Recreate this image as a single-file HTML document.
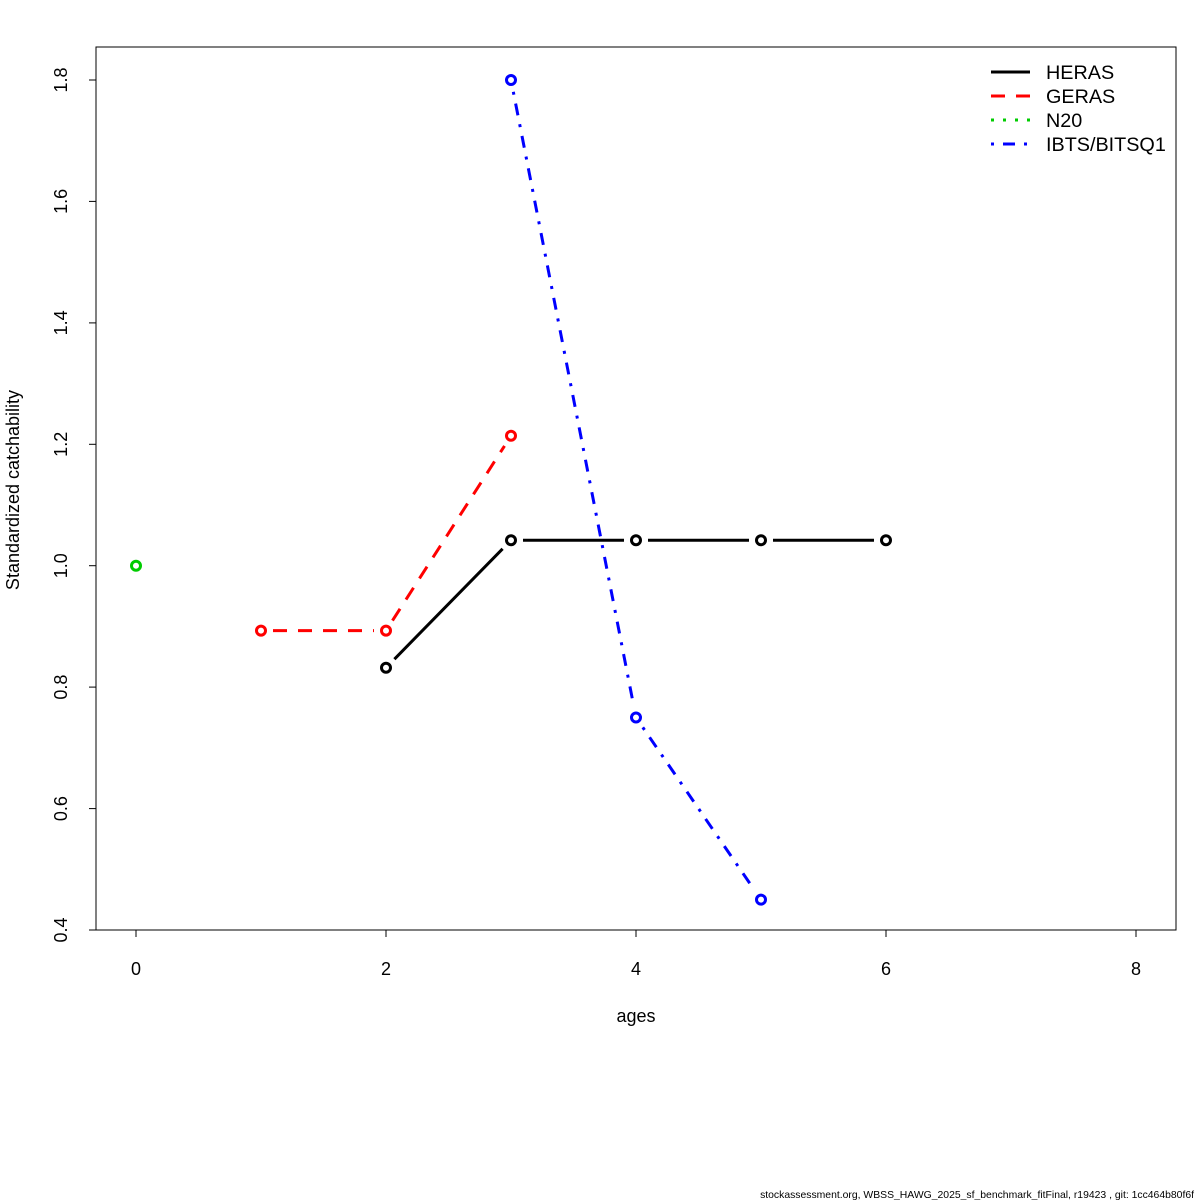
<!DOCTYPE html>
<html><head><meta charset="utf-8"><style>
html,body{margin:0;padding:0;background:#fff}
svg{display:block;font-family:"Liberation Sans",sans-serif}
</style></head><body>
<svg id="s" width="1200" height="1200" viewBox="0 0 1200 1200">
<rect x="96" y="47" width="1080" height="883" fill="none" stroke="#000" stroke-width="1"/>
<g stroke="#000" stroke-width="1">
<line x1="136" y1="930" x2="1136" y2="930"/>
<line x1="136" y1="930" x2="136" y2="937"/><line x1="386" y1="930" x2="386" y2="937"/>
<line x1="636" y1="930" x2="636" y2="937"/><line x1="886" y1="930" x2="886" y2="937"/>
<line x1="1136" y1="930" x2="1136" y2="937"/>
<line x1="96" y1="80" x2="96" y2="930"/>
<line x1="89" y1="930" x2="96" y2="930"/><line x1="89" y1="808.6" x2="96" y2="808.6"/>
<line x1="89" y1="687.1" x2="96" y2="687.1"/><line x1="89" y1="565.7" x2="96" y2="565.7"/>
<line x1="89" y1="444.3" x2="96" y2="444.3"/><line x1="89" y1="322.9" x2="96" y2="322.9"/>
<line x1="89" y1="201.4" x2="96" y2="201.4"/><line x1="89" y1="80" x2="96" y2="80"/>
</g>
<g font-size="18" text-anchor="middle" fill="#000">
<text x="136" y="975">0</text><text x="386" y="975">2</text><text x="636" y="975">4</text>
<text x="886" y="975">6</text><text x="1136" y="975">8</text>
<text x="636" y="1022">ages</text>
<text transform="translate(67,930) rotate(-90)">0.4</text>
<text transform="translate(67,808.6) rotate(-90)">0.6</text>
<text transform="translate(67,687.1) rotate(-90)">0.8</text>
<text transform="translate(67,565.7) rotate(-90)">1.0</text>
<text transform="translate(67,444.3) rotate(-90)">1.2</text>
<text transform="translate(67,322.9) rotate(-90)">1.4</text>
<text transform="translate(67,201.4) rotate(-90)">1.6</text>
<text transform="translate(67,80) rotate(-90)">1.8</text>
<text transform="translate(19,490) rotate(-90)">Standardized catchability</text>
</g>
<g id="series"></g>
<g stroke-width="3" fill="none">
<line x1="991" y1="72" x2="1030" y2="72" stroke="#000"/>
<line x1="991" y1="96" x2="1030" y2="96" stroke="#f00" stroke-dasharray="14,11"/>
<line x1="991" y1="120" x2="1030" y2="120" stroke="#0c0" stroke-dasharray="3,9"/>
<line x1="991" y1="144" x2="1030" y2="144" stroke="#00f" stroke-dasharray="3,9,12,9"/>
</g>
<g font-size="19.8" fill="#000">
<text x="1046" y="79">HERAS</text><text x="1046" y="103">GERAS</text>
<text x="1046" y="127">N20</text><text x="1046" y="151">IBTS/BITSQ1</text>
</g>
<text x="1194" y="1198" font-size="10.4" text-anchor="end">stockassessment.org, WBSS_HAWG_2025_sf_benchmark_fitFinal, r19423 , git: 1cc464b80f6f</text>
</svg>
<script>
var X=a=>136+125*a, Y=v=>930-(v-0.4)*607.14;
var S=[
 {c:"#000",d:"",p:[[2,.832],[3,1.042],[4,1.042],[5,1.042],[6,1.042]]},
 {c:"#f00",d:"14,11",p:[[1,.893],[2,.893],[3,1.214]]},
 {c:"#0c0",d:"3,9",p:[[0,1.0]]},
 {c:"#00f",d:"3,9,12,9",p:[[3,1.8],[4,.75],[5,.45]]}];
var g=document.getElementById("series"),h="";
S.forEach(s=>{
 var q=s.p.map(p=>[X(p[0]),Y(p[1])]);
 for(var i=0;i<q.length-1;i++){
  var a=q[i],b=q[i+1],dx=b[0]-a[0],dy=b[1]-a[1],L=Math.hypot(dx,dy),u=12/L;
  h+=`<line x1="${a[0]+dx*u}" y1="${a[1]+dy*u}" x2="${b[0]-dx*u}" y2="${b[1]-dy*u}" stroke="${s.c}" stroke-width="3" stroke-dasharray="${s.d}"/>`;
 }
 q.forEach(p=>{h+=`<circle cx="${p[0]}" cy="${p[1]}" r="4.5" fill="none" stroke="${s.c}" stroke-width="3"/>`;});
});
g.innerHTML=h;
</script>
</body></html>
